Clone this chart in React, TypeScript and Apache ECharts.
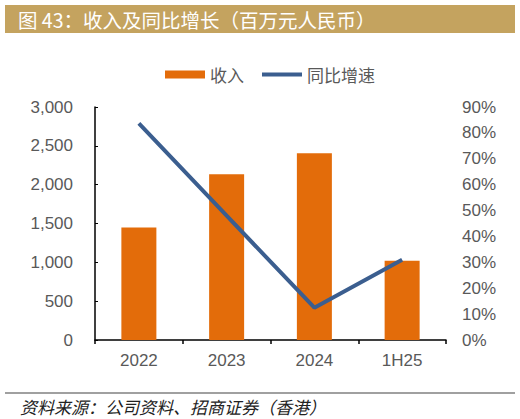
import { useEffect, useRef } from 'react'
import * as echarts from 'echarts'

const categories = ['2022', '2023', '2024', '1H25']
const revenue = [1450, 2135, 2405, 1020]
const growth = [83.7, 48, 12.5, 31]

const leftTicks = [0, 500, 1000, 1500, 2000, 2500, 3000]
const rightTicks = [0, 10, 20, 30, 40, 50, 60, 70, 80, 90]

const title = '图 43：收入及同比增长（百万元人民币）'
const source = '资料来源：公司资料、招商证券（香港）'

const FONT = '"Liberation Sans", Arial, sans-serif'
const CJK = '"Noto Sans CJK SC", sans-serif'
const GREY = '#595959'
const ORANGE = '#E36C0A'
const BLUE = '#3B5E8F'

// thick line icon for the legend, kept in an 40x8 box
const lineIcon = 'path://M0,0 L0,0 M0,8 L0,8 M0,2 L40,2 L40,6 L0,6 Z'

export default function App() {
  const chartRef = useRef<HTMLDivElement>(null)

  useEffect(() => {
    if (!chartRef.current) return
    const chart = echarts.init(chartRef.current, undefined, { renderer: 'svg' })

    chart.setOption({
      animation: false,
      grid: { left: 95, right: 74, top: 107, bottom: 79 },
      legend: {
        top: 61,
        left: 160,
        itemGap: 18,
        itemWidth: 40,
        itemHeight: 8,
        textStyle: { fontFamily: CJK, fontSize: 17, color: GREY },
        data: [
          { name: '收入', icon: 'rect' },
          { name: '同比增速', icon: lineIcon, itemStyle: { color: BLUE } },
        ],
      },
      xAxis: {
        type: 'category',
        data: categories,
        axisLine: { lineStyle: { color: '#000', width: 1.5 } },
        axisTick: { show: true, length: 4, lineStyle: { color: '#000', width: 1.5 } },
        axisLabel: { color: GREY, fontSize: 17, fontFamily: FONT, margin: 12 },
      },
      yAxis: [
        {
          type: 'value',
          min: leftTicks[0],
          max: leftTicks[leftTicks.length - 1],
          interval: 500,
          axisLine: { show: true, lineStyle: { color: '#000', width: 1.5 } },
          axisTick: { show: true, inside: true, length: 3, lineStyle: { color: '#000' } },
          splitLine: { show: false },
          axisLabel: {
            color: GREY,
            fontSize: 17,
            fontFamily: FONT,
            margin: 22,
            formatter: (v: number) => v.toLocaleString('en-US'),
          },
        },
        {
          type: 'value',
          min: rightTicks[0],
          max: rightTicks[rightTicks.length - 1],
          interval: 10,
          axisLine: { show: false },
          axisTick: { show: false },
          splitLine: { show: false },
          axisLabel: {
            color: GREY,
            fontSize: 17,
            fontFamily: FONT,
            margin: 16,
            formatter: '{value}%',
          },
        },
      ],
      series: [
        {
          name: '收入',
          type: 'bar',
          data: revenue,
          barWidth: 35,
          itemStyle: { color: ORANGE },
        },
        {
          name: '同比增速',
          type: 'line',
          yAxisIndex: 1,
          data: growth,
          showSymbol: false,
          symbol: 'none',
          lineStyle: { color: BLUE, width: 4 },
          itemStyle: { color: BLUE },
        },
      ],
      graphic: [
        {
          type: 'rect',
          shape: { x: 5, y: 5, width: 510, height: 28 },
          style: { fill: '#C4A35F' },
        },
        {
          type: 'text',
          x: 18,
          y: 19,
          style: {
            text: title,
            fill: '#fff',
            fontSize: 19.5,
            fontFamily: CJK,
            verticalAlign: 'middle',
          },
        },
        {
          type: 'line',
          shape: { x1: 5, y1: 393, x2: 515, y2: 393 },
          style: { stroke: '#808080', lineWidth: 1.5 },
        },
        {
          type: 'text',
          x: 20,
          y: 406,
          style: {
            text: source,
            fill: '#222',
            fontSize: 17,
            fontStyle: 'italic',
            fontFamily: CJK,
            verticalAlign: 'middle',
          },
        },
      ],
    })

    return () => {
      chart.dispose()
    }
  }, [])

  return (
    <div
      ref={chartRef}
      style={{ position: 'fixed', left: 0, top: 0, width: 520, height: 419, background: '#fff' }}
    />
  )
}
